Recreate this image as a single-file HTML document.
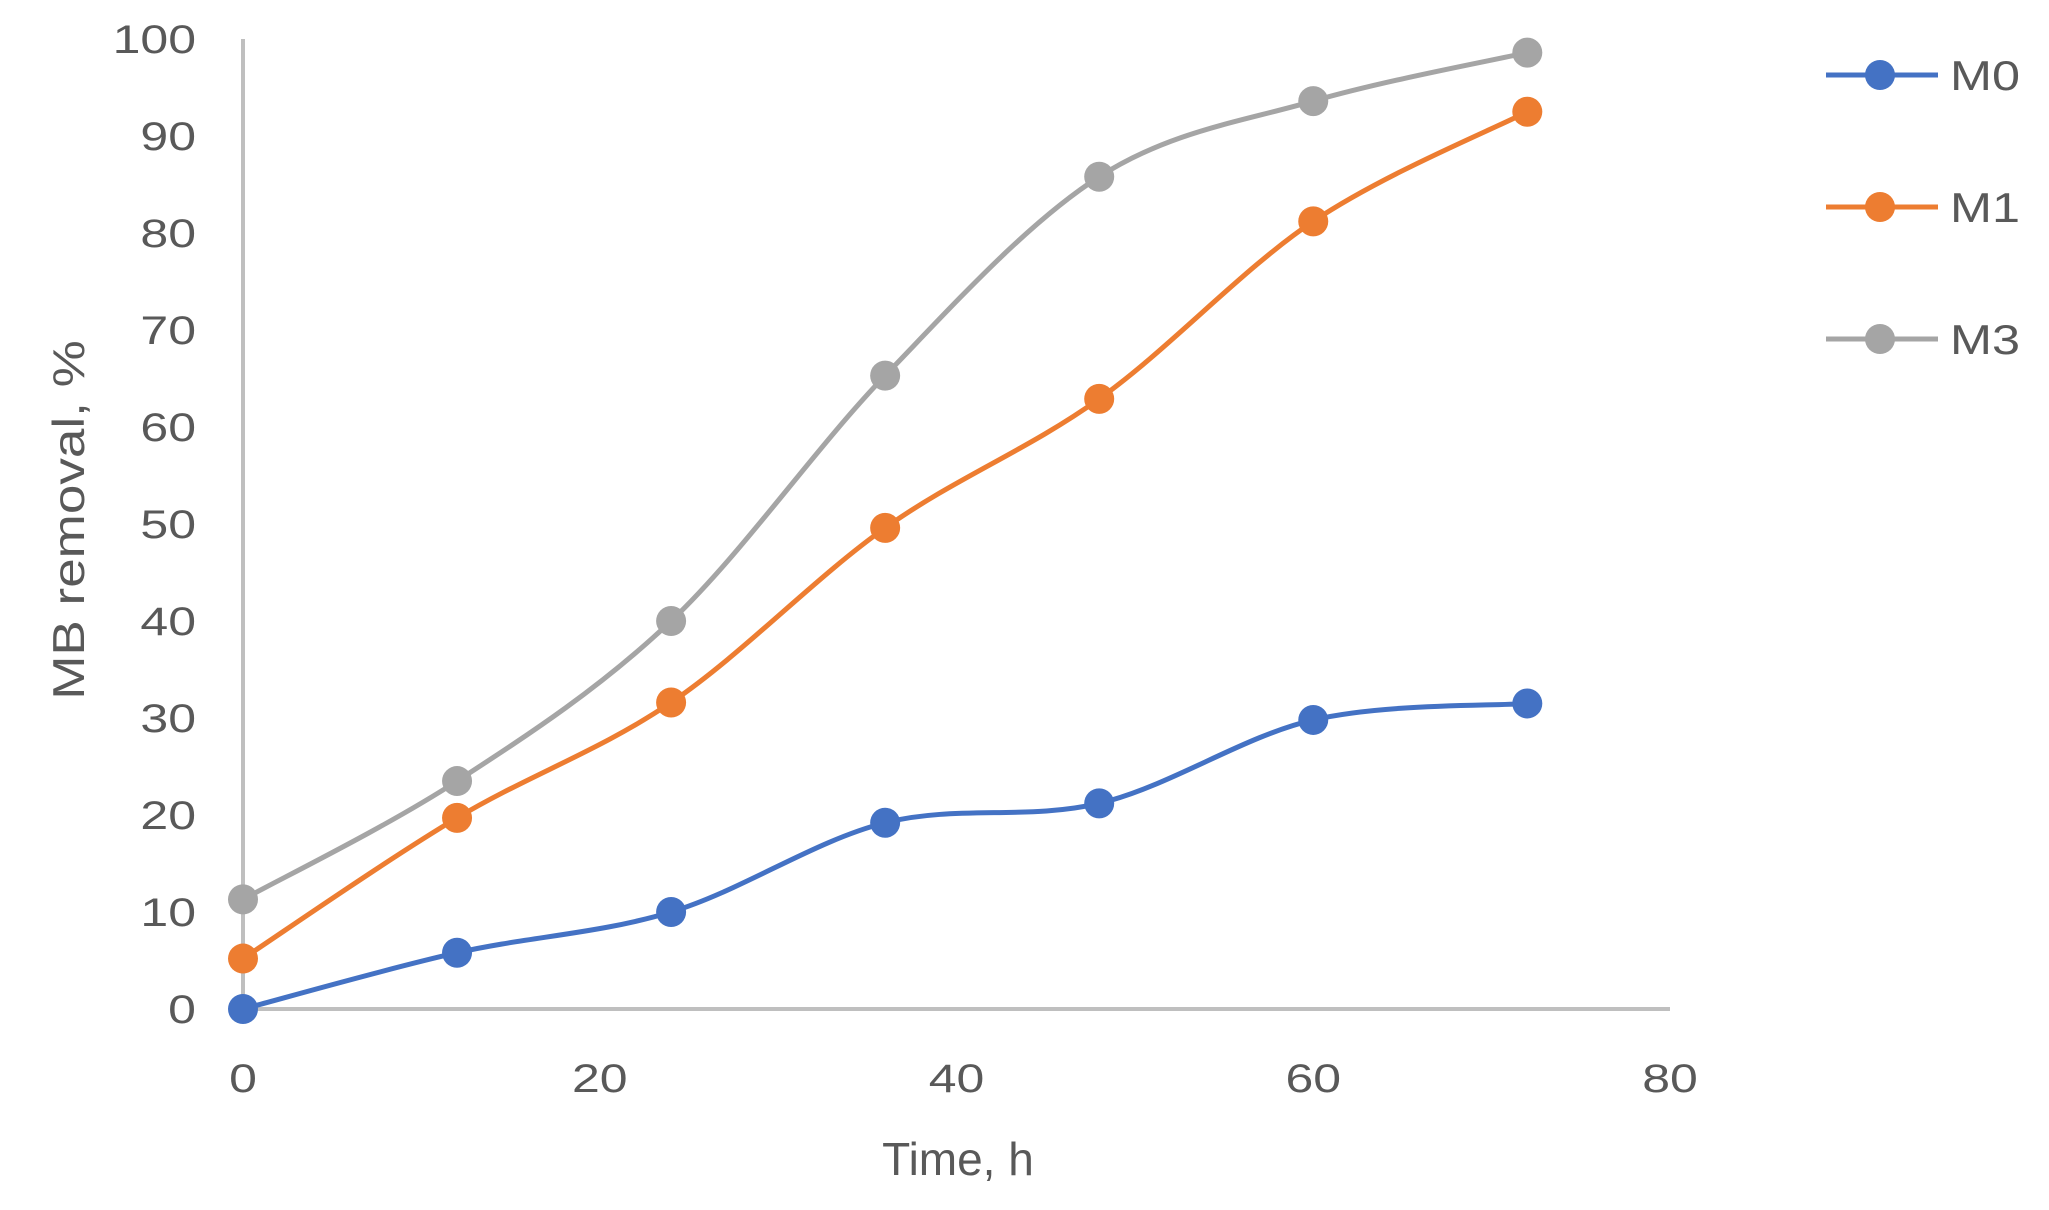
<!DOCTYPE html>
<html><head><meta charset="utf-8"><style>html,body{margin:0;padding:0;background:#fff}svg{display:block}</style></head>
<body>
<svg id="c" width="2049" height="1210" xmlns="http://www.w3.org/2000/svg" font-family="Liberation Sans, sans-serif">
<line x1="243" y1="39" x2="243" y2="1009" stroke="#bfbfbf" stroke-width="4"/>
<line x1="243" y1="1009" x2="1670" y2="1009" stroke="#bfbfbf" stroke-width="4"/>
<g id="yt" fill="#595959" font-size="40" text-anchor="end"></g>
<g id="xt" fill="#595959" font-size="40" text-anchor="middle"></g>
<text x="958" y="1175" fill="#595959" font-size="46" text-anchor="middle">Time, h</text>
<text transform="translate(84,520) rotate(-90) scale(1.02,0.85)" fill="#595959" font-size="52" text-anchor="middle">MB removal, %</text>
<g id="series"></g>
<g font-size="42" fill="#595959">
<line x1="1826" y1="75" x2="1938" y2="75" stroke="#4472c4" stroke-width="5"/><circle cx="1880" cy="75" r="15" fill="#4472c4"/><text transform="translate(1950,90) scale(1.2,1)">M0</text>
<line x1="1826" y1="207" x2="1938" y2="207" stroke="#ed7d31" stroke-width="5"/><circle cx="1880" cy="207" r="15" fill="#ed7d31"/><text transform="translate(1950,222) scale(1.2,1)">M1</text>
<line x1="1826" y1="339" x2="1938" y2="339" stroke="#a5a5a5" stroke-width="5"/><circle cx="1880" cy="339" r="15" fill="#a5a5a5"/><text transform="translate(1950,354) scale(1.2,1)">M3</text>
</g>
</svg>
<script>
var NS="http://www.w3.org/2000/svg";
function X(v){return 243+v*(1670-243)/80}
function Y(v){return 1009-v*(1009-39)/100}
var yt=document.getElementById('yt');
for(var i=0;i<=100;i+=10){var t=document.createElementNS(NS,'text');t.setAttribute('transform','translate(196,'+(Y(i)+14)+') scale(1.25,1)');t.textContent=i;yt.appendChild(t);}
var xt=document.getElementById('xt');
for(var i=0;i<=80;i+=20){var t=document.createElementNS(NS,'text');t.setAttribute('transform','translate('+X(i)+',1092) scale(1.25,1)');t.textContent=i;xt.appendChild(t);}
var xs=[0,12,24,36,48,60,72];
var S=[["#a5a5a5",[11.3,23.5,40,65.3,85.8,93.6,98.6]],["#ed7d31",[5.2,19.7,31.6,49.6,62.9,81.2,92.5]],["#4472c4",[0,5.8,10,19.2,21.2,29.8,31.5]]];
var g=document.getElementById('series');
S.forEach(function(s){
 var p=xs.map(function(x,i){return [X(x),Y(s[1][i])]});
 var d="M"+p[0][0]+","+p[0][1];
 for(var i=0;i<p.length-1;i++){
  var p0=p[i>0?i-1:i],p1=p[i],p2=p[i+1],p3=p[i+2<p.length?i+2:i+1];
  var k=1/6;
  d+=" C"+(p1[0]+(p2[0]-p0[0])*k)+","+(p1[1]+(p2[1]-p0[1])*k)+" "+(p2[0]-(p3[0]-p1[0])*k)+","+(p2[1]-(p3[1]-p1[1])*k)+" "+p2[0]+","+p2[1];
 }
 var path=document.createElementNS(NS,'path');path.setAttribute('d',d);path.setAttribute('fill','none');path.setAttribute('stroke',s[0]);path.setAttribute('stroke-width',5);g.appendChild(path);
 p.forEach(function(q){var c=document.createElementNS(NS,'circle');c.setAttribute('cx',q[0]);c.setAttribute('cy',q[1]);c.setAttribute('r',15);c.setAttribute('fill',s[0]);g.appendChild(c);});
});
</script>
</body></html>
